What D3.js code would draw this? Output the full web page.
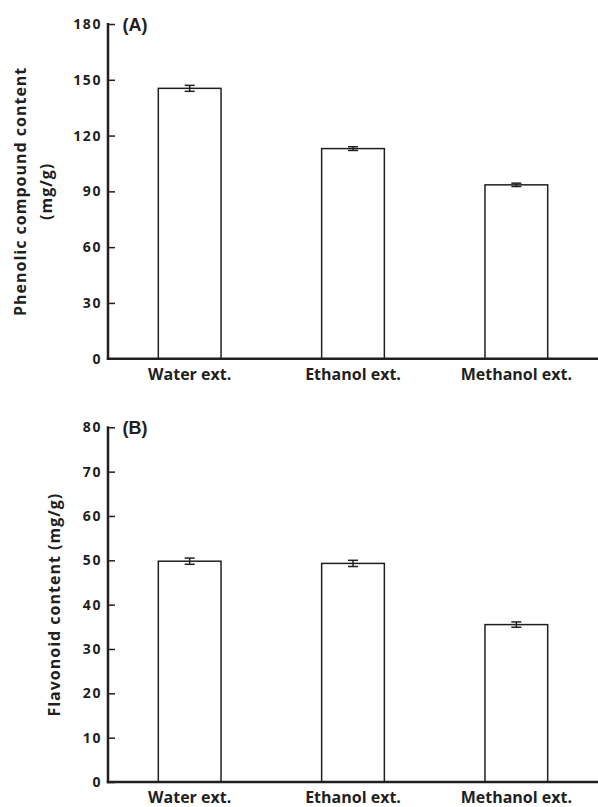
<!DOCTYPE html>
<html><head><meta charset="utf-8">
<script src="https://cdn.jsdelivr.net/npm/d3@7"></script>
<style>html,body{margin:0;padding:0;background:#fff}svg{display:block}</style>
</head><body>
<svg id="c" width="598" height="807"></svg>
<script>
const categories = ["Water ext.", "Ethanol ext.", "Methanol ext."];
const phenolicValues = [145.4, 113.0, 93.5];
const phenolicErrors = [1.6, 1.0, 0.9];
const flavonoidValues = [49.8, 49.3, 35.5];
const flavonoidErrors = [0.7, 0.7, 0.6];
const phenolicTicks = [0, 30, 60, 90, 120, 150, 180];
const flavonoidTicks = [0, 10, 20, 30, 40, 50, 60, 70, 80];

const ink = "#231f20";
const font = "'Open Sans', sans-serif";
const svg = d3.select("#c");
const x = d3.scaleBand().domain(categories).range([108, 598]).paddingInner(0.616).paddingOuter(0.308);

function panel(opts) {
  const g = svg.append("g");
  const y = d3.scaleLinear().domain(opts.domain).range([opts.y0, opts.y1]);
  const data = categories.map((c, i) => ({c, v: opts.values[i], e: opts.errors[i]}));
  // bars
  g.selectAll("rect.bar").data(data).enter().append("rect")
    .attr("x", d => x(d.c)).attr("width", x.bandwidth())
    .attr("y", d => y(d.v)).attr("height", d => y(0) - y(d.v))
    .attr("fill", "#fff").attr("stroke", ink).attr("stroke-width", 1.5);
  // error bars
  const eb = g.selectAll("g.eb").data(data).enter().append("g");
  eb.append("line").attr("x1", d => x(d.c) + x.bandwidth()/2).attr("x2", d => x(d.c) + x.bandwidth()/2)
    .attr("y1", d => y(d.v + d.e)).attr("y2", d => y(d.v - d.e)).attr("stroke", ink).attr("stroke-width", 1.5);
  [1, -1].forEach(s => {
    eb.append("line").attr("x1", d => x(d.c) + x.bandwidth()/2 - 5).attr("x2", d => x(d.c) + x.bandwidth()/2 + 5)
      .attr("y1", d => y(d.v + s*d.e)).attr("y2", d => y(d.v + s*d.e)).attr("stroke", ink).attr("stroke-width", 1.5);
  });
  // y axis
  const ya = g.append("g").attr("transform", "translate(108,0)")
    .call(d3.axisRight(y).tickValues(opts.ticks).tickSize(7).tickPadding(0).tickFormat(d3.format("d")));
  ya.select(".domain").remove();
  ya.selectAll(".tick line").attr("stroke", ink).attr("stroke-width", 1.5);
  ya.selectAll(".tick text").attr("x", -6).attr("text-anchor", "end").attr("letter-spacing", 1.6)
    .attr("font-family", font).attr("font-weight", "bold").attr("font-size", 14).attr("fill", ink);
  g.append("line").attr("x1", 108).attr("x2", 108).attr("y1", opts.y1 - 1).attr("y2", opts.y0 + 1.2)
    .attr("stroke", ink).attr("stroke-width", 2.5);
  // x axis
  const xa = g.append("g").attr("transform", `translate(0,${opts.y0})`)
    .call(d3.axisBottom(x).tickSize(0).tickPadding(0));
  xa.select(".domain").remove();
  xa.selectAll(".tick text").attr("dy", null).attr("y", 21)
    .attr("font-family", font).attr("font-weight", "bold").attr("font-size", 16).attr("fill", ink);
  g.append("line").attr("x1", 106.8).attr("x2", 598).attr("y1", opts.y0).attr("y2", opts.y0)
    .attr("stroke", ink).attr("stroke-width", 2.5);
  // panel label
  g.append("text").attr("x", 122.5).attr("y", opts.y1 + 6.5).text(opts.tag)
    .attr("font-family", "'Liberation Sans', Arial, sans-serif").attr("font-weight", "bold").attr("font-size", 18).attr("fill", ink);
  // y label
  const cy = (opts.y0 + opts.y1) / 2;
  opts.ylabel.forEach((t, i) => {
    g.append("text").attr("transform", `translate(${opts.labelX[i]},${cy}) rotate(-90)`)
      .attr("text-anchor", "middle").attr("dominant-baseline", "central").attr("letter-spacing", 1).text(t)
      .attr("font-family", font).attr("font-weight", "bold").attr("font-size", 16).attr("fill", ink);
  });
}

panel({domain: [0, 180], y0: 358.7, y1: 24, values: phenolicValues, errors: phenolicErrors, ticks: phenolicTicks,
  tag: "(A)", ylabel: ["Phenolic  compound content", "(mg/g)"], labelX: [20, 46]});
panel({domain: [0, 80], y0: 782, y1: 427.3, values: flavonoidValues, errors: flavonoidErrors, ticks: flavonoidTicks,
  tag: "(B)", ylabel: ["Flavonoid content (mg/g)"], labelX: [54]});
</script>
</body></html>
